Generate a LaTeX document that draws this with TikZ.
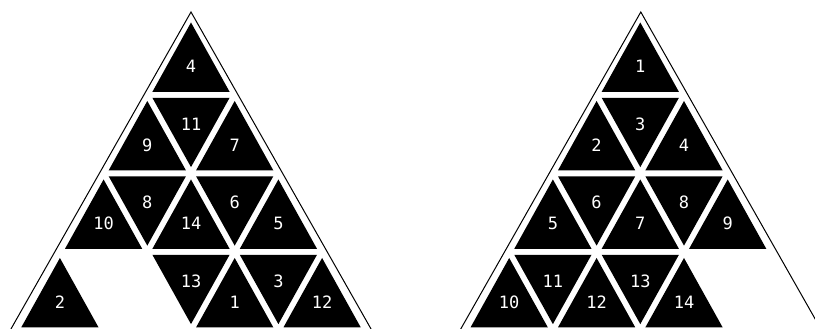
\documentclass[tikz,border=0pt]{standalone}
\usepackage{fontspec}
\newfontfamily\labfont{DejaVu Sans Mono}
\begin{document}
\begin{tikzpicture}[x=1pt,y=-1pt,
  tile/.style={fill=black},
  lab/.style={text=white,font=\labfont\fontsize{17}{19}\selectfont,inner sep=0pt,anchor=center},
  outline/.style={draw=black,line width=1pt}]
\useasboundingbox (0,0) rectangle (815,329);
\clip (0,0) rectangle (815,329);
\def\Y{16.3}\def\H{78.5}\def\W{43.7}
\newcommand{\tileup}[5]{% name, cx, row, j, label
  \pgfmathsetmacro\tx{#2+(-(#3-1)+2*#4)*\W}
  \pgfmathsetmacro\ty{\Y+(#3-1)*\H}
  \fill[tile] (\tx,\ty+6.17) -- (\tx-38.6,\ty+75.5) -- (\tx+38.6,\ty+75.5) -- cycle;
  \node[lab] (#1) at (\tx,\ty+50.5) {#5};}
\newcommand{\tiledown}[5]{% name, cx, row, j, label
  \pgfmathsetmacro\tx{#2+(-#3+2+2*#4)*\W}
  \pgfmathsetmacro\ty{\Y+(#3-1)*\H}
  \fill[tile] (\tx-38.6,\ty+3) -- (\tx+38.6,\ty+3) -- (\tx,\ty+72.33) -- cycle;
  \node[lab] (#1) at (\tx,\ty+29.5) {#5};}
% ---- left pyramid
\def\cx{191}
\coordinate (LA) at (191,12);
\coordinate (LL) at (191-186.3,340);
\coordinate (LR) at (191+186.3,340);
\tileup{a4}{\cx}{1}{0}{4}
\tileup{a9}{\cx}{2}{0}{9}
\tiledown{a11}{\cx}{2}{0}{11}
\tileup{a7}{\cx}{2}{1}{7}
\tileup{a10}{\cx}{3}{0}{10}
\tiledown{a8}{\cx}{3}{0}{8}
\tileup{a14}{\cx}{3}{1}{14}
\tiledown{a6}{\cx}{3}{1}{6}
\tileup{a5}{\cx}{3}{2}{5}
\tileup{a2}{\cx}{4}{0}{2}
\tiledown{a13}{\cx}{4}{1}{13}
\tileup{a1}{\cx}{4}{2}{1}
\tiledown{a3}{\cx}{4}{2}{3}
\tileup{a12}{\cx}{4}{3}{12}
\draw[outline] (LL) -- (LA) -- (LR);
% ---- right pyramid
\def\cx{640.3}
\coordinate (RA) at (640.8,12);
\coordinate (RL) at (640.8-186.3,340);
\coordinate (RR) at (640.8+186.3,340);
\tileup{b1}{\cx}{1}{0}{1}
\tileup{b2}{\cx}{2}{0}{2}
\tiledown{b3}{\cx}{2}{0}{3}
\tileup{b4}{\cx}{2}{1}{4}
\tileup{b5}{\cx}{3}{0}{5}
\tiledown{b6}{\cx}{3}{0}{6}
\tileup{b7}{\cx}{3}{1}{7}
\tiledown{b8}{\cx}{3}{1}{8}
\tileup{b9}{\cx}{3}{2}{9}
\tileup{b10}{\cx}{4}{0}{10}
\tiledown{b11}{\cx}{4}{0}{11}
\tileup{b12}{\cx}{4}{1}{12}
\tiledown{b13}{\cx}{4}{1}{13}
\tileup{b14}{\cx}{4}{2}{14}
\draw[outline] (RL) -- (RA) -- (RR);
\end{tikzpicture}
\end{document}
